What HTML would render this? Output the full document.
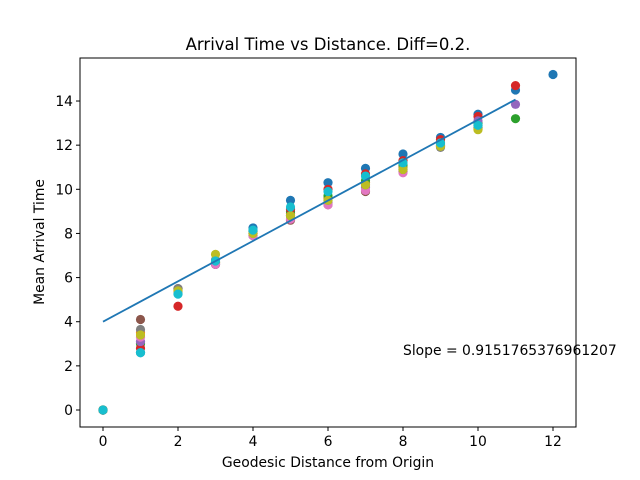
<!DOCTYPE html>
<html><head><meta charset="utf-8"><style>
body{margin:0;background:#fff}
svg{display:block;font-family:"DejaVu Sans","Liberation Sans",sans-serif}
</style></head><body>
<svg id="chart" width="640" height="480" viewBox="0 0 640 480">
<rect width="640" height="480" fill="#fff"/>
<text x="328" y="50" font-size="16.5" text-anchor="middle">Arrival Time vs Distance. Diff=0.2.</text>
<g id="plot"></g>
<text x="328" y="467" font-size="13.9" text-anchor="middle">Geodesic Distance from Origin</text>
<text x="44" y="242" font-size="13.9" text-anchor="middle" transform="rotate(-90 44 242)">Mean Arrival Time</text>
<text x="403" y="355" font-size="13.9">Slope = 0.9151765376961207</text>
</svg>
<script>
const xTicks=[0,2,4,6,8,10,12];
const yTicks=[0,2,4,6,8,10,12,14];
const colors=["#1f77b4","#ff7f0e","#2ca02c","#d62728","#9467bd","#8c564b","#e377c2","#7f7f7f","#bcbd22","#17becf"];
const s0=[0,2.6,5.45,6.6,8.25,9.5,10.3,10.95,11.6,12.35,13.4,14.5,15.2];
const s1=[0,3.5,5.4,6.7,8.0,8.9,9.6,10.3,11.0,12.0,12.9];
const s2=[0,3.0,5.3,6.7,8.1,9.0,9.7,10.4,11.1,12.1,13.0,13.2];
const s3=[0,2.8,4.7,6.65,8.0,9.1,10.0,10.7,11.3,12.25,13.3,14.7];
const s4=[0,3.1,5.35,6.6,8.0,8.8,9.4,10.1,10.9,12.0,13.1,13.85];
const s5=[0,4.1,5.5,6.6,7.9,8.6,9.3,9.9,10.8,11.95,12.8];
const s6=[0,3.3,5.35,6.6,7.9,8.65,9.3,9.95,10.75,11.95,12.75];
const s7=[0,3.65,5.5,6.8,8.1,8.8,9.5,10.2,10.9,11.9,12.8];
const s8=[0,3.4,5.4,7.05,8.0,8.8,9.5,10.2,10.9,11.95,12.7];
const s9=[0,2.6,5.25,6.75,8.15,9.2,9.9,10.6,11.2,12.1,12.9];
const series=[s0,s1,s2,s3,s4,s5,s6,s7,s8,s9];
const fitIntercept=4.0, fitSlope=0.9151765376961207, fitX=[0,11];
const L=80,R=576,T=58,B=427;
const X=v=>103+v*37.5;
const Y=v=>410-v*22.07;
const ns="http://www.w3.org/2000/svg";
const g=document.getElementById('plot');
function mk(t,a){const e=document.createElementNS(ns,t);for(const k in a)e.setAttribute(k,a[k]);g.appendChild(e);return e;}
series.forEach((s,i)=>{s.forEach((v,j)=>{
 const c=mk('circle',{cx:X(j),cy:Y(v),r:4.6,fill:colors[i]});
 
 
});});
const ln=mk('line',{x1:X(fitX[0]),y1:Y(fitIntercept+fitSlope*fitX[0]),x2:X(fitX[1]),y2:Y(fitIntercept+fitSlope*fitX[1]),stroke:"#1f77b4","stroke-width":1.8});


const fr=mk('rect',{x:L,y:T,width:R-L,height:B-T,fill:"none",stroke:"#000","stroke-width":1});


xTicks.forEach(t=>{
 const tk=mk('line',{x1:X(t),x2:X(t),y1:B,y2:B+4,stroke:"#000"});
 
 
 const tx=mk('text',{x:X(t),y:B+19,"font-size":13.9,"text-anchor":"middle"});tx.textContent=t;
 
 
});
yTicks.forEach(t=>{
 const tk=mk('line',{x1:L-4,x2:L,y1:Y(t),y2:Y(t),stroke:"#000"});
 
 
 const tx=mk('text',{x:L-7,y:Y(t)+5,"font-size":13.9,"text-anchor":"end"});tx.textContent=t;
 
 
});
</script>
</body></html>
